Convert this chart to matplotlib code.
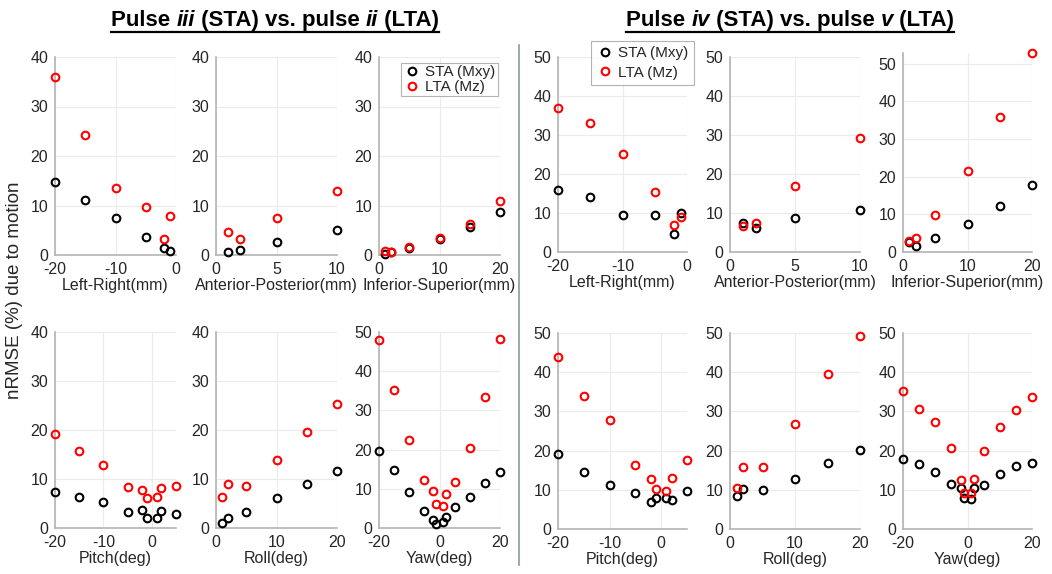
import numpy as np
import matplotlib
matplotlib.use('Agg')
import matplotlib.pyplot as plt
from matplotlib.lines import Line2D

plt.rcParams['font.family'] = ['Liberation Sans', 'DejaVu Sans']
plt.rcParams['axes.unicode_minus'] = False

# ---------------- data ----------------
# left half: pulse iii (STA) vs pulse ii (LTA)
lr_x = [-20, -15, -10, -5, -2, -1]
ap_x = [1, 2, 5, 10]
is_x = [1, 2, 5, 10, 15, 20]
pitch_x = [-20, -15, -10, -5, -2, -1, 1, 2, 5]
roll_x = [1, 2, 5, 10, 15, 20]
yaw_x = [-20, -15, -10, -5, -2, -1, 1, 2, 5, 10, 15, 20]

L_lr_sta = [14.8, 11.2, 7.5, 3.6, 1.4, 0.8]
L_lr_lta = [35.9, 24.3, 13.6, 9.6, 3.2, 7.8]
L_ap_sta = [0.6, 1.0, 2.6, 5.1]
L_ap_lta = [4.7, 3.3, 7.4, 12.9]
L_is_sta = [0.3, 0.6, 1.5, 3.3, 5.7, 8.6]
L_is_lta = [0.9, 0.6, 1.6, 3.4, 6.3, 10.9]
L_pitch_sta = [7.4, 6.3, 5.3, 3.2, 3.6, 2.1, 2.1, 3.5, 2.8]
L_pitch_lta = [19.1, 15.7, 12.9, 8.3, 7.7, 6.2, 6.3, 8.1, 8.6]
L_roll_sta = [1.0, 2.0, 3.2, 6.1, 8.9, 11.7]
L_roll_lta = [6.4, 9.0, 8.5, 13.8, 19.5, 25.4]
L_yaw_sta = [19.6, 14.7, 9.1, 4.4, 2.0, 1.1, 1.6, 2.7, 5.3, 7.8, 11.6, 14.2]
L_yaw_lta = [47.9, 35.2, 22.4, 12.3, 9.4, 6.1, 5.7, 8.8, 11.7, 20.3, 33.3, 48.1]

# right half: pulse iv (STA) vs pulse v (LTA)
R_lr_sta = [15.8, 14.2, 9.5, 9.5, 4.5, 9.9]
R_lr_lta = [37.0, 33.1, 25.0, 15.3, 6.8, 8.9]
R_ap_sta = [7.4, 6.2, 8.8, 10.8]
R_ap_lta = [6.6, 7.4, 16.8, 29.2]
R_is_sta = [2.7, 1.7, 3.7, 7.5, 12.2, 17.9]
R_is_lta = [2.8, 3.7, 9.8, 21.4, 35.9, 52.7]
R_pitch_sta = [19.1, 14.6, 11.2, 9.2, 6.9, 8.0, 8.0, 7.4, 9.8]
R_pitch_lta = [44.0, 33.9, 27.7, 16.4, 12.7, 10.3, 9.6, 12.9, 17.5]
R_roll_sta = [8.4, 10.2, 10.0, 12.7, 16.8, 20.1]
R_roll_lta = [10.5, 15.8, 15.8, 26.8, 39.5, 49.2]
R_yaw_sta = [17.8, 16.6, 14.6, 11.4, 10.5, 7.8, 7.6, 10.5, 11.2, 14.1, 16.0, 16.9]
R_yaw_lta = [35.1, 30.7, 27.3, 20.7, 12.5, 9.3, 9.3, 12.7, 19.9, 26.0, 30.3, 33.7]

W, H = 1052, 574
fig = plt.figure(figsize=(W / 100, H / 100), dpi=100)
fig.patch.set_facecolor('white')

txt_color = '#262626'
spine_color = '#b4b4b4'


def px_axes(x0, x1, ytop, ybot):
    return fig.add_axes([x0 / W, 1 - ybot / H, (x1 - x0) / W, (ybot - ytop) / H])


def draw_panel(ax, x, sta, lta, xlim, xticks, ylim, yticks, xlabel, legend=None):
    ax.plot(x, sta, 'o', ls='none', mfc='none', mec='black', ms=5.5, mew=1.5,
            label='STA (Mxy)', clip_on=False, zorder=3)
    ax.plot(x, lta, 'o', ls='none', mfc='none', mec='red', ms=5.5, mew=1.5,
            label='LTA (Mz)', clip_on=False, zorder=3)
    ax.set_xlim(xlim)
    ax.set_ylim(ylim)
    ax.set_xticks(xticks)
    ax.set_yticks(yticks)
    ax.grid(True, color='#ebebeb', lw=0.8)
    ax.set_axisbelow(True)
    for s in ['top', 'right']:
        ax.spines[s].set_visible(False)
    for s in ['left', 'bottom']:
        ax.spines[s].set_color(spine_color)
        ax.spines[s].set_linewidth(1.2)
    ax.tick_params(length=0, labelsize=11.5, colors=txt_color, pad=5)
    ax.set_xlabel(xlabel, fontsize=11.5, color=txt_color, labelpad=1)
    if legend is not None:
        # legend = (x0, ytop, pad, spacing) in figure pixels
        lx, ly, bpad, lsp = legend
        leg = ax.legend(loc='upper left', bbox_to_anchor=(lx / W, 1 - ly / H),
                        bbox_transform=fig.transFigure, fontsize=11, frameon=True,
                        fancybox=False, handletextpad=0.35, borderpad=bpad,
                        labelspacing=lsp, handlelength=1.1, borderaxespad=0)
        leg.get_frame().set_edgecolor('#a0a0a0')
        leg.get_frame().set_linewidth(0.8)
        for t in leg.get_texts():
            t.set_color(txt_color)


# top row, left half
draw_panel(px_axes(55, 176, 57, 255), lr_x, L_lr_sta, L_lr_lta, (-20, 0), [-20, -10, 0],
           (0, 40), [0, 10, 20, 30, 40], 'Left-Right(mm)')
draw_panel(px_axes(216, 337, 57, 255), ap_x, L_ap_sta, L_ap_lta, (0, 10), [0, 5, 10],
           (0, 40), [0, 10, 20, 30, 40], 'Anterior-Posterior(mm)')
draw_panel(px_axes(379, 500, 57, 255), is_x, L_is_sta, L_is_lta, (0, 20), [0, 10, 20],
           (0, 40), [0, 10, 20, 30, 40], 'Inferior-Superior(mm)', legend=(401, 63, 0.15, 0.05))

# top row, right half
draw_panel(px_axes(558, 687, 57, 252), lr_x, R_lr_sta, R_lr_lta, (-20, 0), [-20, -10, 0],
           (0, 50), [0, 10, 20, 30, 40, 50], 'Left-Right(mm)', legend=(591, 41, 0.35, 0.35))
draw_panel(px_axes(730, 860, 57, 252), ap_x, R_ap_sta, R_ap_lta, (0, 10), [0, 5, 10],
           (0, 50), [0, 10, 20, 30, 40, 50], 'Anterior-Posterior(mm)')
draw_panel(px_axes(903, 1032, 53, 252), is_x, R_is_sta, R_is_lta, (0, 20), [0, 10, 20],
           (0, 52.8), [0, 10, 20, 30, 40, 50], 'Inferior-Superior(mm)')

# bottom row, left half
draw_panel(px_axes(55, 176, 332, 528), pitch_x, L_pitch_sta, L_pitch_lta, (-20, 5), [-20, -10, 0],
           (0, 40), [0, 10, 20, 30, 40], 'Pitch(deg)')
draw_panel(px_axes(216, 337, 332, 528), roll_x, L_roll_sta, L_roll_lta, (0, 20), [0, 10, 20],
           (0, 40), [0, 10, 20, 30, 40], 'Roll(deg)')
draw_panel(px_axes(379, 500, 332, 528), yaw_x, L_yaw_sta, L_yaw_lta, (-20, 20), [-20, 0, 20],
           (0, 50), [0, 10, 20, 30, 40, 50], 'Yaw(deg)')

# bottom row, right half
draw_panel(px_axes(558, 687, 333, 529), pitch_x, R_pitch_sta, R_pitch_lta, (-20, 5), [-20, -10, 0],
           (0, 50), [0, 10, 20, 30, 40, 50], 'Pitch(deg)')
draw_panel(px_axes(730, 860, 333, 529), roll_x, R_roll_sta, R_roll_lta, (0, 20), [0, 10, 20],
           (0, 50), [0, 10, 20, 30, 40, 50], 'Roll(deg)')
draw_panel(px_axes(903, 1032, 333, 529), yaw_x, R_yaw_sta, R_yaw_lta, (-20, 20), [-20, 0, 20],
           (0, 50), [0, 10, 20, 30, 40, 50], 'Yaw(deg)')

# shared y label
fig.text(15 / W, 1 - 290 / H, 'nRMSE (%) due to motion', rotation=90, ha='center', va='center',
         fontsize=13.5, color=txt_color)

# separator between the two halves
fig.add_artist(Line2D([519 / W, 519 / W], [1 - 45 / H, 1 - 565 / H], color='#8e9a9a', lw=1.2))

# titles: bold, partly italic, underlined
renderer = fig.canvas.get_renderer()


def draw_title(cx, ytop, parts, size=16):
    texts = []
    for s, italic in parts:
        t = fig.text(0, 1 - ytop / H, s, fontsize=size, fontweight='bold',
                     style='italic' if italic else 'normal', va='top', ha='left', color='black')
        texts.append(t)
    widths = [t.get_window_extent(renderer).width for t in texts]
    total = sum(widths)
    x = cx - total / 2
    for t, w in zip(texts, widths):
        t.set_x(x / W)
        x += w
    bb = texts[0].get_window_extent(renderer)
    yline = bb.y0 - 1
    fig.add_artist(Line2D([(cx - total / 2) / W, (cx + total / 2) / W], [yline / H, yline / H],
                          color='black', lw=1.6))


draw_title(275, 10, [('Pulse ', False), ('iii', True), (' (STA) vs. pulse ', False),
                     ('ii', True), (' (LTA)', False)])
draw_title(790, 10, [('Pulse ', False), ('iv', True), (' (STA) vs. pulse ', False),
                     ('v', True), (' (LTA)', False)])

fig.savefig('out.png', dpi=100, facecolor='white')
